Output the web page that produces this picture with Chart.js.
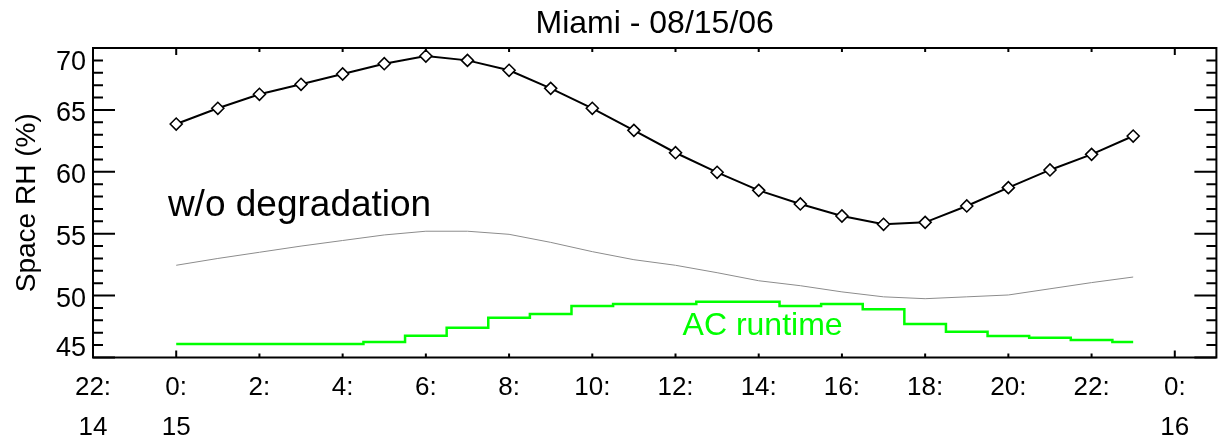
<!DOCTYPE html>
<html><head><meta charset="utf-8">
<script src="https://cdn.jsdelivr.net/npm/chart.js@4"></script>
<style>html,body{margin:0;padding:0;background:#fff;}canvas{display:block;}</style>
</head><body>
<canvas id="c" width="1224" height="439"></canvas>
<script>
// ---- data ----
const hours = [0,1,2,3,4,5,6,7,8,9,10,11,12,13,14,15,16,17,18,19,20,21,22,23];
const rhMeasured = [63.86,65.13,66.26,67.07,67.9,68.73,69.35,69.0,68.2,66.74,65.13,63.35,61.54,59.96,58.5,57.4,56.43,55.76,55.92,57.24,58.72,60.15,61.41,62.89];
const rhNoDegradation = [52.45,53.0,53.5,54.0,54.45,54.9,55.2,55.2,54.95,54.3,53.55,52.9,52.45,51.85,51.2,50.8,50.3,49.9,49.75,49.9,50.05,50.55,51.05,51.5];
const acRuntime = [46.09,46.09,46.09,46.09,46.09,46.25,46.76,47.41,48.21,48.51,49.16,49.32,49.32,49.51,49.51,49.16,49.32,48.89,47.71,47.08,46.74,46.6,46.41,46.25];
const xTickHours = [-2,0,2,4,6,8,10,12,14,16,18,20,22,24];
const xTickTop = ['22:','0:','2:','4:','6:','8:','10:','12:','14:','16:','18:','20:','22:','0:'];
const xTickBottom = ['14','15','','','','','','','','','','','','16'];
const yTicks = [45,50,55,60,65,70];
const yMinorTicks = [45,46,47,48,49,50,51,52,53,54,55,56,57,58,59,60,61,62,63,64,65,66,67,68,69,70];
const titleText = 'Miami - 08/15/06';
const yTitle = 'Space RH (%)';
const label1 = 'w/o degradation';
const label2 = 'AC runtime';

const FONT = '"Liberation Sans", Arial, Helvetica, sans-serif';
Chart.defaults.font.family = FONT;
Chart.defaults.color = '#000';

const pts = arr => hours.map((h, i) => ({x: h, y: arr[i]}));

const framePlugin = {
  id: 'frame',
  afterDraw(chart) {
    const ctx = chart.ctx, a = chart.chartArea;
    const xs = chart.scales.x, ys = chart.scales.y;
    ctx.save();
    ctx.strokeStyle = '#000';
    ctx.lineWidth = 2;
    ctx.strokeRect(a.left, a.top, a.right - a.left, a.bottom - a.top);
    ctx.beginPath();
    yMinorTicks.forEach(v => {
      const y = ys.getPixelForValue(v);
      const len = (v % 5 === 0) ? 22 : 10;
      ctx.moveTo(a.left, y); ctx.lineTo(a.left + len, y);
      ctx.moveTo(a.right, y); ctx.lineTo(a.right - len, y);
    });
    xTickHours.forEach(h => {
      const x = xs.getPixelForValue(h);
      const len = (h % 24 === 0) ? 7 : 4;
      ctx.moveTo(x, a.bottom); ctx.lineTo(x, a.bottom - len);
      ctx.moveTo(x, a.top); ctx.lineTo(x, a.top + len);
    });
    ctx.stroke();
    // y tick labels
    ctx.fillStyle = '#000';
    ctx.font = '27px ' + FONT;
    ctx.textAlign = 'right';
    ctx.textBaseline = 'middle';
    yTicks.forEach((v, i) => {
      let y = ys.getPixelForValue(v) + 4;
      if (i === yTicks.length - 1) y = ys.getPixelForValue(v) + 15;
      if (i === 0) y = ys.getPixelForValue(v) - 9;
      ctx.fillText(String(v), 86, y);
    });
    // annotations
    ctx.textAlign = 'left';
    ctx.textBaseline = 'alphabetic';
    ctx.font = '37px ' + FONT;
    ctx.fillStyle = '#000';
    ctx.fillText(label1, xs.getPixelForValue(-0.2), ys.getPixelForValue(56.43));
    ctx.font = '32px ' + FONT;
    ctx.fillStyle = '#00ff00';
    ctx.fillText(label2, xs.getPixelForValue(12.17), ys.getPixelForValue(46.82));
    ctx.restore();
  }
};

new Chart(document.getElementById('c'), {
  type: 'line',
  data: {
    datasets: [
      {label: 'Space RH', data: pts(rhMeasured), borderColor: '#000', borderWidth: 2,
       pointStyle: 'rectRot', pointRadius: 6, pointBorderWidth: 1.6,
       pointBackgroundColor: '#fff', pointBorderColor: '#000', tension: 0},
      {label: label1, data: pts(rhNoDegradation), borderColor: '#8c8c8c', borderWidth: 1,
       pointRadius: 0, tension: 0},
      {label: label2, data: pts(acRuntime), borderColor: '#00ff00', borderWidth: 2.5,
       pointRadius: 0, stepped: 'middle'}
    ]
  },
  options: {
    responsive: false,
    animation: false,
    devicePixelRatio: 1,
    layout: {padding: {left: 0, right: 7, top: 0, bottom: 0}},
    plugins: {
      legend: {display: false},
      tooltip: {enabled: false},
      title: {display: true, text: titleText, fullSize: false,
              font: {size: 32, weight: 'normal', lineHeight: 1.2},
              color: '#000', padding: {top: 5, bottom: 4.6}}
    },
    scales: {
      x: {
        type: 'linear', position: 'bottom', min: -2, max: 25,
        grid: {display: false, drawTicks: false}, border: {display: false},
        afterBuildTicks: s => { s.ticks = xTickHours.map(v => ({value: v})); },
        afterFit: s => { s.height = 81.5; },
        ticks: {
          autoSkip: false, maxRotation: 0, minRotation: 0, padding: 10,
          font: {size: 26, lineHeight: '40px'}, color: '#000',
          callback: (value) => {
            const i = xTickHours.indexOf(value);
            if (i < 0) return '';
            return xTickBottom[i] ? [xTickTop[i], xTickBottom[i]] : [xTickTop[i]];
          }
        }
      },
      y: {
        type: 'linear', position: 'left', min: 45, max: 70,
        grid: {display: false, drawTicks: false}, border: {display: false},
        afterBuildTicks: s => { s.ticks = yTicks.map(v => ({value: v})); },
        afterFit: s => { s.width = 93; },
        ticks: {display: false},
        title: {display: true, text: yTitle, color: '#000',
                font: {size: 28, lineHeight: 1.2}, padding: {top: 10, bottom: 0}}
      }
    }
  },
  plugins: [framePlugin]
});
</script>
</body></html>
